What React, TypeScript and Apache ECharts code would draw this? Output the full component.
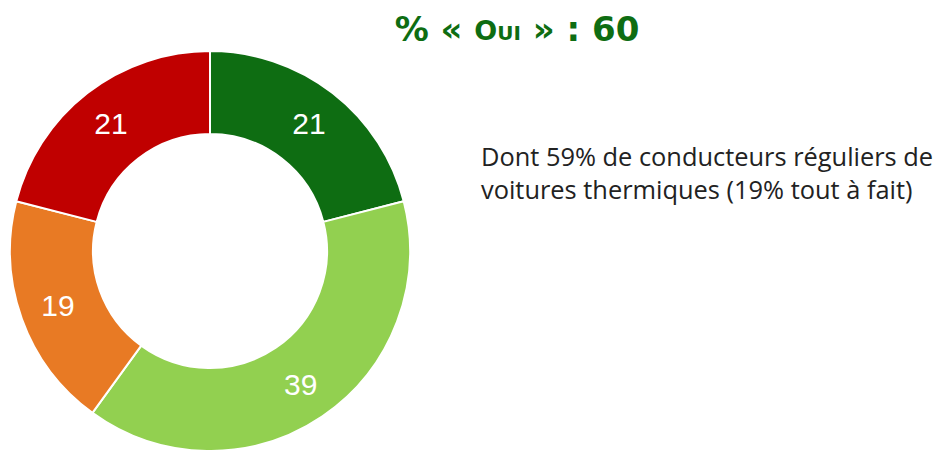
import React, { useEffect, useRef } from "react";
import * as echarts from "echarts";

const categories = ["Oui, tout à fait", "Oui, plutôt", "Non, plutôt pas", "Non, pas du tout"];
const values = [21, 39, 19, 21];
const colors = ["#0E6D12", "#92D050", "#E87A24", "#C00000"];
const noteLines = [
  "Dont 59% de conducteurs réguliers de",
  "voitures thermiques (19% tout à fait)",
];

export default function App() {
  const ref = useRef<HTMLDivElement>(null);
  useEffect(() => {
    if (!ref.current) return;
    const chart = echarts.init(ref.current, null, { renderer: "svg" });
    const green = "#0E6D12";
    chart.setOption({
      animation: false,
      backgroundColor: "#ffffff",
      graphic: [
        {
          type: "text",
          x: 517,
          y: 26,
          style: {
            text: "{a|% « }{o|O}{u|UI}{a| » : 60}",
            align: "center",
            verticalAlign: "middle",
            fill: green,
            rich: {
              a: { fontFamily: "DejaVu Sans", fontWeight: "bold", fontSize: 34, fill: green, verticalAlign: "bottom", lineHeight: 40 },
              o: { fontFamily: "DejaVu Sans", fontWeight: "bold", fontSize: 27, fill: green, verticalAlign: "bottom", lineHeight: 40, padding: [0, 0, 2, 0] },
              u: { fontFamily: "DejaVu Sans", fontWeight: "bold", fontSize: 20, fill: green, verticalAlign: "bottom", lineHeight: 40, padding: [0, 0, 3, 0] },
            },
          },
        },
        {
          type: "text",
          x: 481,
          y: 139,
          style: {
            text: noteLines.join("\n"),
            fontFamily: "Open Sans",
            fontSize: 25.4,
            lineHeight: 33,
            fill: "#222222",
            align: "left",
            verticalAlign: "top",
          },
        },
      ],
      series: [
        {
          type: "pie",
          center: [210, 251],
          radius: [117, 200],
          startAngle: 90,
          clockwise: true,
          silent: true,
          itemStyle: { borderColor: "#ffffff", borderWidth: 2 },
          label: {
            show: true,
            position: "inside",
            formatter: "{c}",
            color: "#ffffff",
            fontFamily: "Liberation Sans",
            fontSize: 30,
          },
          labelLine: { show: false },
          emphasis: { disabled: true },
          data: categories.map((name, i) => ({
            name,
            value: values[i],
            itemStyle: { color: colors[i] },
          })),
        },
      ],
    });
    return () => chart.dispose();
  }, []);
  return (
    <div
      ref={ref}
      style={{ position: "fixed", left: 0, top: 0, width: 938, height: 450 }}
    />
  );
}
